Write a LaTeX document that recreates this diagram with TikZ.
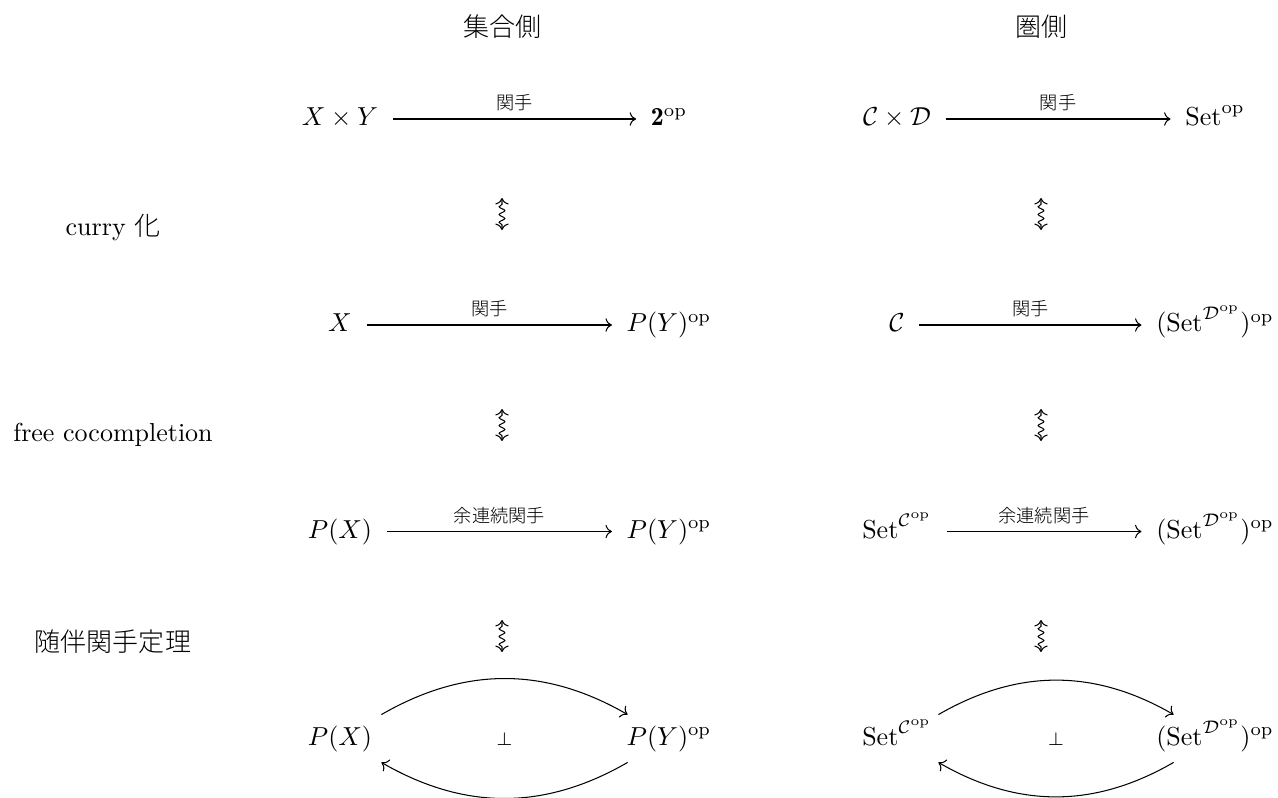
\documentclass[tikz,border=0pt]{standalone}
\usepackage{amsmath,amssymb}
\usepackage{fontspec}
\newfontfamily\jp{Noto Sans CJK JP Light}
\usetikzlibrary{arrows.meta,decorations.pathmorphing,calc}
\begin{document}
\begin{tikzpicture}[x=0.3846pt,y=-0.3846pt,
  obj/.style={anchor=base,inner xsep=5.5pt,inner ysep=3.5pt,text height=8pt,text depth=3pt},
  rowlab/.style={anchor=base,inner sep=0pt},
  hdr/.style={anchor=base,inner sep=0pt,font=\jp},
  cdarrow/.style={line width=0.4pt,-{Computer Modern Rightarrow}},
  flab/.style={above,font=\jp\scriptsize,inner sep=2.8pt},
  squig/.style={line width=0.4pt,{Computer Modern Rightarrow}-{Computer Modern Rightarrow},decorate,
     decoration={snake,amplitude=1.1pt,segment length=3pt,pre length=2pt,post length=2pt}},
  adj/.style={anchor=base,inner sep=0pt,font=\scriptsize,yshift=-2.5pt},
]
\useasboundingbox (0,0) rectangle (1278,797);
% headers
\node[hdr] (h1) at (502,36) {集合側};
\node[hdr] (h2) at (1041,36) {圏側};
% row labels
\node[rowlab] (l1) at (113,235) {curry {\jp 化}};
\node[rowlab] (l2) at (113,441) {free cocompletion};
\node[rowlab] (l3) at (113,651) {\jp 随伴関手定理};
% row 1
\node[obj] (a1) at (340,125.5) {$X\times Y$};
\node[obj] (b1) at (669,125.5) {$\mathbf{2}^{\mathrm{op}}$};
\node[obj] (c1) at (897,125.5) {$\mathcal{C}\times\mathcal{D}$};
\node[obj] (d1) at (1215,125.5) {$\mathrm{Set}^{\mathrm{op}}$};
% row 2
\node[obj] (a2) at (340,331.5) {$X$};
\node[obj] (b2) at (669,331.5) {$P(Y)^{\mathrm{op}}$};
\node[obj] (c2) at (897,331.5) {$\mathcal{C}$};
\node[obj] (d2) at (1215,331.5) {$(\mathrm{Set}^{\mathcal{D}^{\mathrm{op}}})^{\mathrm{op}}$};
% row 3
\node[obj] (a3) at (340,538) {$P(X)$};
\node[obj] (b3) at (669,538) {$P(Y)^{\mathrm{op}}$};
\node[obj] (c3) at (897,538) {$\mathrm{Set}^{\mathcal{C}^{\mathrm{op}}}$};
\node[obj] (d3) at (1215,538) {$(\mathrm{Set}^{\mathcal{D}^{\mathrm{op}}})^{\mathrm{op}}$};
% row 4
\node[obj] (a4) at (340,745) {$P(X)$};
\node[obj] (b4) at (669,745) {$P(Y)^{\mathrm{op}}$};
\node[obj] (c4) at (897,745) {$\mathrm{Set}^{\mathcal{C}^{\mathrm{op}}}$};
\node[obj] (d4) at (1215,745) {$(\mathrm{Set}^{\mathcal{D}^{\mathrm{op}}})^{\mathrm{op}}$};
% horizontal arrows
\draw[cdarrow] (a1) -- (b1) node[flab,midway] {関手};
\draw[cdarrow] (c1) -- (d1) node[flab,midway] {関手};
\draw[cdarrow] (a2) -- (b2) node[flab,midway] {関手};
\draw[cdarrow] (c2) -- (d2) node[flab,midway] {関手};
\draw[cdarrow] (a3) -- (b3) node[flab,midway] {余連続関手};
\draw[cdarrow] (c3) -- (d3) node[flab,midway] {余連続関手};
% adjunctions
\draw[cdarrow] (a4) to[bend left=30] (b4);
\draw[cdarrow] (b4) to[bend left=30] (a4);
\draw[cdarrow] (c4) to[bend left=30] (d4);
\draw[cdarrow] (d4) to[bend left=30] (c4);
\node[adj] (p1) at ($(a4)!0.5!(b4)$) {$\perp$};
\node[adj] (p2) at ($(c4)!0.5!(d4)$) {$\perp$};
% squiggly equivalences
\coordinate (s1a) at (502,230); \coordinate (s1b) at (502,198);
\coordinate (s2a) at (502,441); \coordinate (s2b) at (502,409);
\coordinate (s3a) at (502,652); \coordinate (s3b) at (502,620);
\coordinate (t1a) at (1041,230); \coordinate (t1b) at (1041,198);
\coordinate (t2a) at (1041,441); \coordinate (t2b) at (1041,409);
\coordinate (t3a) at (1041,652); \coordinate (t3b) at (1041,620);
\draw[squig] (s1a) -- (s1b);
\draw[squig] (s2a) -- (s2b);
\draw[squig] (s3a) -- (s3b);
\draw[squig] (t1a) -- (t1b);
\draw[squig] (t2a) -- (t2b);
\draw[squig] (t3a) -- (t3b);
\end{tikzpicture}
\end{document}
